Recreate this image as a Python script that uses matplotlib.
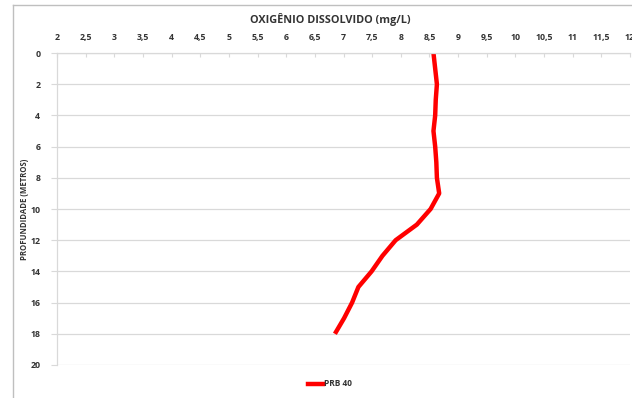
import matplotlib.pyplot as plt
from matplotlib.lines import Line2D
from matplotlib.ticker import FuncFormatter, MultipleLocator

# dissolved oxygen profile, station PRB 40
depth_m = [0, 1, 2, 3, 4, 5, 6, 7, 8, 9, 10, 11, 12, 13, 14, 15, 16, 17, 18]
oxygen_mgl = [8.57, 8.60, 8.63, 8.61, 8.60, 8.57, 8.60, 8.62, 8.63, 8.67,
              8.52, 8.28, 7.91, 7.68, 7.49, 7.26, 7.15, 7.01, 6.85]
series_name = "PRB 40"

GRID = "#d9d9d9"
TXT = "#333333"
FONT = "Open Sans"

fig = plt.figure(figsize=(6.32, 3.98), dpi=100)
ax = fig.add_axes([57 / 632, 33 / 398, 573 / 632, 312 / 398])

ax.plot(oxygen_mgl, depth_m, color="#ff0000", lw=3.2, solid_capstyle="butt",
        solid_joinstyle="round")

ax.set_xlim(2, 12)
ax.set_ylim(20, 0)
ax.xaxis.set_major_locator(MultipleLocator(0.5))
ax.yaxis.set_major_locator(MultipleLocator(2))
ax.xaxis.set_major_formatter(FuncFormatter(lambda v, p: f"{v:g}".replace(".", ",")))
ax.xaxis.tick_top()

ax.grid(axis="y", color=GRID, lw=0.9)
for side in ["right", "bottom"]:
    ax.spines[side].set_visible(False)
for side in ["left", "top"]:
    ax.spines[side].set_color(GRID)
    ax.spines[side].set_linewidth(0.9)

ax.tick_params(axis="x", direction="in", length=3, color=GRID, pad=8,
               labelsize=6.3, labelcolor=TXT)
ax.tick_params(axis="y", direction="out", length=4, color=GRID, pad=8,
               labelsize=6.3, labelcolor=TXT)
for lab in ax.get_xticklabels() + ax.get_yticklabels():
    lab.set_fontfamily(FONT)
    lab.set_fontweight("bold")

fig.text(330 / 632, 1 - 20 / 398, "OXIGÊNIO DISSOLVIDO (mg/L)", ha="center",
         va="center", fontsize=7.8, fontweight="bold", color=TXT, family=FONT)
fig.text(25 / 632, 1 - 209 / 398, "PROFUNDIDADE (METROS)", ha="center",
         va="center", rotation=90, fontsize=5.6, fontweight="bold", color=TXT,
         family=FONT)

# legend under the plot
handle = Line2D([], [], color="#ff0000", lw=3.2)
leg = fig.legend([handle], [series_name], loc="center",
                 bbox_to_anchor=(330 / 632, 1 - 384 / 398), frameon=False,
                 handlelength=1.8, handletextpad=0.2,
                 prop={"family": FONT, "size": 6, "weight": "bold"})
for t in leg.get_texts():
    t.set_color(TXT)

# chart area border (left and top edges)
fig.add_artist(Line2D([13 / 632, 13 / 632], [0, 1 - 5 / 398],
                      transform=fig.transFigure, color="#bfbfbf", lw=1))
fig.add_artist(Line2D([13 / 632, 1], [1 - 5 / 398, 1 - 5 / 398],
                      transform=fig.transFigure, color="#bfbfbf", lw=1))

fig.savefig("out.png", dpi=100)
